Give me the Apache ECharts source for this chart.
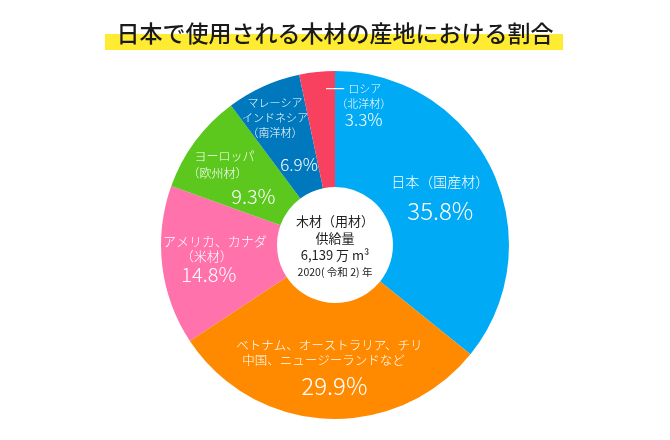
<!DOCTYPE html>
<html>
<head>
<meta charset="utf-8">
<script src="https://cdn.jsdelivr.net/npm/echarts@6/dist/echarts.min.js"></script>
<style>html,body{margin:0;padding:0;background:#fff;}#c{width:670px;height:440px;}</style>
</head>
<body>
<div id="c"></div>
<script>
const titleText = '日本で使用される木材の産地における割合';
const categories = [
  '日本（国産材）',
  'ベトナム、オーストラリア、チリ\n中国、ニュージーランドなど',
  'アメリカ、カナダ\n（米材）',
  'ヨーロッパ\n（欧州材）',
  'マレーシア\nインドネシア\n（南洋材）',
  'ロシア\n（北洋材）'
];
const shares = [35.8, 29.9, 14.8, 9.3, 6.9, 3.3];
const centerLines = ['木材（用材）', '供給量', '6,139 万 m³', '2020( 令和 2) 年'];

const colors = ['#00AAF5', '#FF8A00', '#FF72AC', '#5CC81E', '#0078BE', '#F7415F'];
const FONT = "'Noto Sans CJK JP', 'Noto Sans', sans-serif";
const LW = 300;

// label styling per slice (positions / sizes only)
const labelStyles = [
  {dx: -2, dy: 5, lines: [{fontSize: 14, lineHeight: 24}], pct: {fontSize: 24, lineHeight: 34}},
  {dx: 0, dy: 7, lines: [{fontSize: 12.5, lineHeight: 15}, {fontSize: 12.5, lineHeight: 15, padding: [0, 12, 0, 0]}], pct: {fontSize: 24, lineHeight: 37, padding: [0, 0, 0, 10]}},
  {dx: -2, dy: 0, lines: [{fontSize: 13, lineHeight: 15}, {fontSize: 13, lineHeight: 15, padding: [0, 16, 0, 0]}], pct: {fontSize: 20, lineHeight: 22, padding: [0, 12, 0, 0]}},
  {dx: -15, dy: 5, lines: [{fontSize: 12, lineHeight: 17}, {fontSize: 12, lineHeight: 17, padding: [0, 14, 0, 0]}], pct: {fontSize: 20, lineHeight: 29, padding: [0, 0, 0, 58]}},
  {dx: -11, dy: 5.5, lines: [{fontSize: 11, lineHeight: 15}, {fontSize: 11, lineHeight: 15}, {fontSize: 11, lineHeight: 15}], pct: {fontSize: 17, lineHeight: 49, padding: [0, 0, 0, 48]}},
  {dx: 41, dy: -22, dash: true, lines: [{fontSize: 11, lineHeight: 15, padding: [0, 20, 0, 4]}, {fontSize: 11, lineHeight: 15}], pct: {fontSize: 17, lineHeight: 17}}
];

function richFor(i) {
  const st = labelStyles[i];
  const rich = {};
  st.lines.forEach((s, j) => {
    rich['l' + j] = Object.assign({color: '#fff', fontFamily: FONT, fontWeight: LW, align: 'center'}, s);
  });
  rich.p = Object.assign({color: '#fff', fontFamily: FONT, fontWeight: LW, align: 'center'}, st.pct);
  rich.d = {width: 18, height: 0, borderWidth: 0.9, borderColor: '#fff', lineHeight: 15, align: 'center'};
  return rich;
}

const chart = echarts.init(document.getElementById('c'));
chart.setOption({
  animation: false,
  backgroundColor: '#fff',
  title: {
    text: titleText,
    left: 'center',
    top: 21,
    padding: 0,
    z: 10,
    textStyle: {fontSize: 23, fontWeight: 500, color: '#1a1a1a', fontFamily: FONT, lineHeight: 24}
  },
  graphic: [
    {type: 'rect', z: 0, shape: {x: 105, y: 34, width: 458, height: 16}, style: {fill: '#FFEB32'}},
    {
      type: 'text', x: 335, y: 247, z: 10,
      style: {
        text: centerLines.map((l, i) => '{' + (i === 3 ? 's' : 'm') + '|' + l + '}').join('\n'),
        align: 'center', verticalAlign: 'middle',
        rich: {
          m: {fontSize: 13, lineHeight: 17, fill: '#222', fontFamily: FONT, align: 'center'},
          s: {fontSize: 10.5, lineHeight: 17, fill: '#222', fontFamily: FONT, align: 'center'}
        }
      }
    }
  ],
  series: [{
    type: 'pie',
    radius: [58, 174],
    center: [335, 245],
    startAngle: 90,
    clockwise: true,
    avoidLabelOverlap: false,
    emphasis: {disabled: true},
    itemStyle: {borderWidth: 0},
    labelLine: {show: false},
    label: {
      show: true,
      position: 'inside',
      color: '#fff',
      fontFamily: FONT,
      formatter: function (p) {
        const st = labelStyles[p.dataIndex];
        const lines = p.name.split('\n');
        const s = lines.map((l, j) => (j === 0 && st.dash ? '{d|}' : '') + '{l' + j + '|' + l + '}').join('\n');
        return s + '\n{p|' + p.value + '%}';
      }
    },
    labelLayout: function (p) {
      const st = labelStyles[p.dataIndex];
      return {dx: st.dx, dy: st.dy};
    },
    data: categories.map((n, i) => ({
      name: n,
      value: shares[i],
      itemStyle: {color: colors[i]},
      label: {rich: richFor(i)}
    }))
  }]
});
</script>
</body>
</html>
